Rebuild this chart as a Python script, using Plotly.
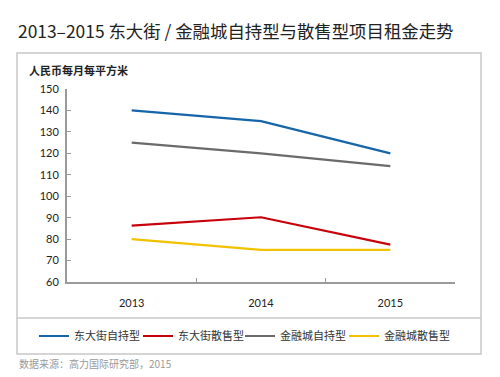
import plotly.graph_objects as go

years = ["2013", "2014", "2015"]
dongdajie_self = [140, 135, 120]
dongdajie_sale = [86.3, 90.2, 77.4]
jinrongcheng_self = [125, 120, 114]
jinrongcheng_sale = [80, 75, 75]
series_names = ["东大街自持型", "东大街散售型", "金融城自持型", "金融城散售型"]
colors = ["#1565a8", "#c8000a", "#6b6b6b", "#f2c200"]
y_ticks = [60, 70, 80, 90, 100, 110, 120, 130, 140, 150]

W, H = 500, 377
L, R, T, B = 67, 455, 89, 282

def px(x):
    return (x - L) / (R - L)

def py(y):
    return (B - y) / (B - T)

legend_ids = ["legend", "legend2", "legend3", "legend4"]
legend_x = [34, 138, 240, 344]

fig = go.Figure()
for name, vals, c, lid in zip(series_names,
                              [dongdajie_self, dongdajie_sale, jinrongcheng_self, jinrongcheng_sale],
                              colors, legend_ids):
    fig.add_trace(go.Scatter(x=years, y=vals, mode="lines", name=name, legend=lid,
                             line=dict(color=c, width=2.2)))

font_cjk = "Noto Sans CJK SC"
legend_layout = {}
for lid, lx in zip(legend_ids, legend_x):
    legend_layout[lid] = dict(orientation="h", x=px(lx), xanchor="left", y=py(336), yanchor="middle",
                              font=dict(family=font_cjk, size=11, color="#333"),
                              bgcolor="rgba(0,0,0,0)", itemclick=False)

fig.update_layout(
    width=W, height=H,
    margin=dict(l=L, r=W - R, t=T, b=H - B, autoexpand=False),
    paper_bgcolor="white", plot_bgcolor="white",
    showlegend=True,
    xaxis=dict(type="category", range=[-0.5, 2.5], showgrid=False, zeroline=False,
               showline=True, linecolor="#9a9a9a", linewidth=2,
               ticks="inside", tickson="boundaries", ticklen=4, tickcolor="#9a9a9a",
               tickfont=dict(family="Lato", size=11, color="#222"),
               ticklabelstandoff=10, fixedrange=True),
    yaxis=dict(range=[60, 150], tickvals=y_ticks, showgrid=False, zeroline=False,
               showline=True, linecolor="#9a9a9a", linewidth=2,
               ticks="inside", ticklen=4, tickcolor="#9a9a9a",
               tickfont=dict(family="Lato", size=11, color="#222"),
               ticklabelstandoff=4, fixedrange=True),
    shapes=[
        dict(type="rect", xref="paper", yref="paper", x0=px(17), x1=px(481), y0=py(354), y1=py(53),
             line=dict(color="#c8c8c8", width=1.5), layer="below"),
        dict(type="line", xref="paper", yref="paper", x0=px(17), x1=px(481), y0=py(318), y1=py(318),
             line=dict(color="#c8c8c8", width=1.5)),
    ],
    annotations=[
        dict(text="2013–2015 东大街 / 金融城自持型与散售型项目租金走势", xref="paper", yref="paper",
             x=px(16), y=py(30), xanchor="left", yanchor="middle", showarrow=False,
             font=dict(family=font_cjk, size=17.4, color="#222")),
        dict(text="<b>人民币每月每平方米</b>", xref="paper", yref="paper",
             x=px(27), y=py(70), xanchor="left", yanchor="middle", showarrow=False,
             font=dict(family=font_cjk, size=11, color="#222")),
        dict(text="数据来源：高力国际研究部，2015", xref="paper", yref="paper",
             x=px(17), y=py(363), xanchor="left", yanchor="middle", showarrow=False,
             font=dict(family=font_cjk, size=10, color="#999")),
    ],
    **legend_layout,
)

fig.write_html("out.html", config={"displayModeBar": False},
               post_script="document.body.style.margin='0';document.body.style.padding='0';")
